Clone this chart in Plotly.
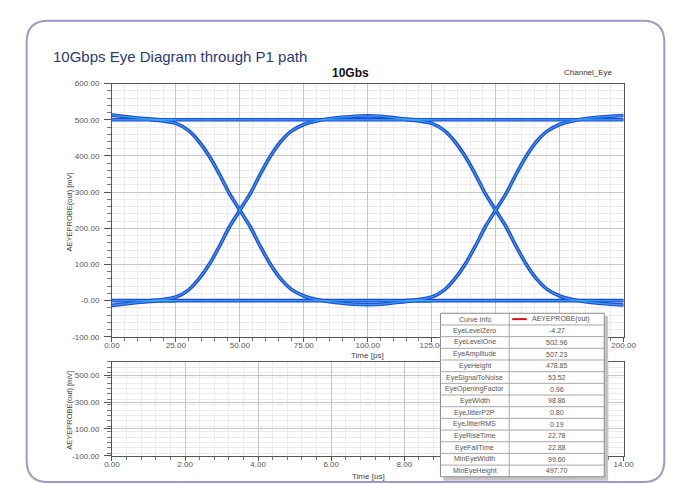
import plotly.graph_objects as go

# ---------------- data ----------------
# Eye-diagram waveform segments (time in ps, voltage in mV)
T_STEADY = [0, 200]
V_STEADY_HI = [500, 500]
V_STEADY_LO = [0, 0]

T_TAIL0 = [0, 5, 10, 15, 20, 25]
V_TAIL0_HI = [513, 509, 505, 502, 500, 500]
V_TAIL0_LO = [-13, -9, -5, -2, 0, 0]

T_EDGE1 = [15, 20, 25, 30, 34, 38, 42, 46, 50, 54, 58, 62, 66, 70, 75, 80, 85, 90, 95, 100, 105, 110, 115, 120, 125]
V_RISE1 = [0, 3, 10, 30, 60, 100, 150, 205, 250, 295, 350, 400, 440, 468, 487, 497, 503, 507, 510, 511, 510, 506, 502, 500, 500]
V_FALL1 = [500, 497, 490, 470, 440, 400, 350, 295, 250, 205, 150, 100, 60, 32, 13, 3, -3, -7, -10, -11, -10, -6, -2, 0, 0]

T_EDGE2 = [115, 120, 125, 130, 134, 138, 142, 146, 150, 154, 158, 162, 166, 170, 175, 180, 185, 190, 195, 200]
V_RISE2 = [0, 3, 10, 30, 60, 100, 150, 205, 250, 295, 350, 400, 440, 468, 487, 497, 503, 507, 510, 512]
V_FALL2 = [500, 497, 490, 470, 440, 400, 350, 295, 250, 205, 150, 100, 60, 32, 13, 3, -3, -7, -10, -12]

X_TICKS_PS = [0, 25, 50, 75, 100, 125, 150, 175, 200]
# labels at 150 and 175 are hidden behind the curve-info table in the reference
X_LABELS_PS = ["0.00", "25.00", "50.00", "75.00", "100.00", "125.00", "", "", "200.00"]
Y_TICKS_MV = [-100, 0, 100, 200, 300, 400, 500, 600]
Y_LABELS_MV = ["-100.00", "-0.00", "100.00", "200.00", "300.00", "400.00", "500.00", "600.00"]

X_TICKS_US = [0, 2, 4, 6, 8, 10, 12, 14]
# labels at 10 and 12 are hidden behind the table in the reference
X_LABELS_US = ["0.00", "2.00", "4.00", "6.00", "8.00", "", "", "14.00"]
Y_TICKS_BOT = [-100, 100, 300, 500]
Y_LABELS_BOT = ["-100.00", "100.00", "300.00", "500.00"]

EYE_PARAMS = ["EyeLevelZero", "EyeLevelOne", "EyeAmplitude", "EyeHeight", "EyeSignalToNoise",
              "EyeOpeningFactor", "EyeWidth", "EyeJitterP2P", "EyeJitterRMS", "EyeRiseTime",
              "EyeFallTime", "MinEyeWidth", "MinEyeHeight"]
EYE_VALUES = ["-4.27", "502.96", "507.23", "478.85", "53.52", "0.96", "98.86", "0.80", "0.19",
              "22.78", "22.88", "99.60", "497.70"]

# ---------------- helpers ----------------
W, H = 679, 483


def px(x):
    return x / W


def py(y):
    return 1 - y / H


FONT = "Liberation Sans"
fig = go.Figure()

paths = [
    (T_STEADY, V_STEADY_HI), (T_STEADY, V_STEADY_LO),
    (T_TAIL0, V_TAIL0_HI), (T_TAIL0, V_TAIL0_LO),
    (T_EDGE1, V_RISE1), (T_EDGE1, V_FALL1),
    (T_EDGE2, V_RISE2), (T_EDGE2, V_FALL2),
]
LAYERS = [("#1e44d6", 3.6, 1.0), ("#2764e2", 2.0, 1.0), ("#3fc4f0", 0.8, 0.85)]
for color, width, op in LAYERS:
    for t, v in paths:
        fig.add_trace(go.Scatter(x=t, y=v, mode="lines", opacity=op,
                                 line=dict(color=color, width=width, shape="spline", smoothing=0.6),
                                 hoverinfo="skip", showlegend=False, xaxis="x", yaxis="y"))

fig.add_trace(go.Scatter(x=[], y=[], mode="lines", xaxis="x2", yaxis="y2", showlegend=False))

tickfont = dict(family=FONT, size=8, color="#555555")
common = dict(showline=True, linecolor="#555555", linewidth=1, mirror=True, ticks="outside",
              tickcolor="#555555", gridcolor="#c6c6c6", gridwidth=1, zeroline=False, tickfont=tickfont,
              fixedrange=True)

fig.update_layout(
    width=W, height=H, margin=dict(l=0, r=0, t=0, b=0),
    paper_bgcolor="white", plot_bgcolor="white", showlegend=False, hovermode=False,
    xaxis=dict(domain=[px(99), px(627)], range=[0, 200], anchor="y", tickvals=X_TICKS_PS, ticktext=X_LABELS_PS,
               ticklen=4, ticklabelstandoff=-3,
               minor=dict(dtick=5, showgrid=True, gridcolor="#ebebeb", ticks="outside", ticklen=3, tickcolor="#777777"),
               **common),
    yaxis=dict(domain=[py(331), py(73)], range=[-100, 600], anchor="x", tickvals=Y_TICKS_MV, ticktext=Y_LABELS_MV,
               ticklen=7, ticklabelstandoff=3,
               minor=dict(dtick=20, showgrid=True, gridcolor="#ebebeb", ticks="outside", ticklen=4, tickcolor="#777777"),
               **common),
    xaxis2=dict(domain=[px(99), px(627)], range=[0, 14], anchor="y2", tickvals=X_TICKS_US, ticktext=X_LABELS_US,
                ticklen=4, ticklabelstandoff=-3,
                minor=dict(dtick=0.4, showgrid=True, gridcolor="#ebebeb", ticks="outside", ticklen=3, tickcolor="#777777"),
                **common),
    yaxis2=dict(domain=[py(452.3), py(356.3)], range=[-100, 600], anchor="x2", tickvals=Y_TICKS_BOT,
                ticktext=Y_LABELS_BOT, ticklen=7, ticklabelstandoff=3,
                minor=dict(dtick=40, showgrid=True, gridcolor="#ebebeb", ticks="outside", ticklen=4, tickcolor="#777777"),
                **common),
)

shapes = []
ann = []

# outer rounded frame
L, R, T, B, r = 11, 669, 9, 479, 22
pth = (f"M {px(L + r)} {py(T)} L {px(R - r)} {py(T)} Q {px(R)} {py(T)} {px(R)} {py(T + r)} "
       f"L {px(R)} {py(B - r)} Q {px(R)} {py(B)} {px(R - r)} {py(B)} "
       f"L {px(L + r)} {py(B)} Q {px(L)} {py(B)} {px(L)} {py(B - r)} "
       f"L {px(L)} {py(T + r)} Q {px(L)} {py(T)} {px(L + r)} {py(T)} Z")
shapes.append(dict(type="path", path=pth, xref="paper", yref="paper", line=dict(color="#9d9bc2", width=2),
                   layer="below"))

# texts
ann.append(dict(text="10Gbps Eye Diagram through P1 path", x=px(36), y=py(45), xref="paper", yref="paper",
                xanchor="left", yanchor="middle", showarrow=False,
                font=dict(family=FONT, size=15, color="#2d3875")))
ann.append(dict(text="<b>10Gbs</b>", x=px(345), y=py(62), xref="paper", yref="paper", showarrow=False,
                xanchor="center", yanchor="middle", font=dict(family=FONT, size=12, color="#111111")))
ann.append(dict(text="Channel_Eye", x=px(591), y=py(62), xref="paper", yref="paper", showarrow=False,
                xanchor="center", yanchor="middle", font=dict(family=FONT, size=8, color="#333333")))
axfont = dict(family=FONT, size=8, color="#444444")
ann.append(dict(text="Time [ps]", x=px(363), y=py(350.5), xref="paper", yref="paper", showarrow=False,
                xanchor="center", yanchor="middle", font=axfont))
ann.append(dict(text="Time [us]", x=px(364), y=py(473), xref="paper", yref="paper", showarrow=False,
                xanchor="center", yanchor="middle", font=axfont))
ann.append(dict(text="AEYEPROBE(out) [mV]", x=px(55), y=py(204), xref="paper", yref="paper", showarrow=False,
                textangle=-90, xanchor="center", yanchor="middle", font=dict(family=FONT, size=7.5, color="#444444")))
ann.append(dict(text="AEYEPROBE(out) [mV]", x=px(55), y=py(406), xref="paper", yref="paper", showarrow=False,
                textangle=-90, xanchor="center", yanchor="middle", font=dict(family=FONT, size=7.5, color="#444444")))

# curve info table
TL, TR, TT, RH, TC = 438, 607, 307, 11.9, 509
nrows = len(EYE_PARAMS) + 1
TB = TT + nrows * RH
shapes.append(dict(type="rect", xref="paper", yref="paper", x0=px(TL + 3), x1=px(TR + 4), y0=py(TT + 3), y1=py(TB + 4),
                   fillcolor="#c4c4c4", line=dict(width=0), layer="above"))
shapes.append(dict(type="rect", xref="paper", yref="paper", x0=px(TL), x1=px(TR), y0=py(TT), y1=py(TB),
                   fillcolor="white", line=dict(color="#8c8c8c", width=1), layer="above"))
for i in range(1, nrows):
    shapes.append(dict(type="line", xref="paper", yref="paper", x0=px(TL), x1=px(TR), y0=py(TT + i * RH),
                       y1=py(TT + i * RH), line=dict(color="#a8a8a8", width=1), layer="above"))
shapes.append(dict(type="line", xref="paper", yref="paper", x0=px(TC), x1=px(TC), y0=py(TT), y1=py(TB),
                   line=dict(color="#a8a8a8", width=1), layer="above"))
shapes.append(dict(type="line", xref="paper", yref="paper", x0=px(512), x1=px(527), y0=py(TT + RH / 2),
                   y1=py(TT + RH / 2), line=dict(color="#e01010", width=2), layer="above"))
tfont = dict(family=FONT, size=7, color="#555555")
ann.append(dict(text="Curve Info", x=px((TL + TC) / 2), y=py(TT + RH / 2), xref="paper", yref="paper",
                showarrow=False, xanchor="center", yanchor="middle", font=tfont))
ann.append(dict(text="AEYEPROBE(out)", x=px(562), y=py(TT + RH / 2), xref="paper", yref="paper",
                showarrow=False, xanchor="center", yanchor="middle", font=tfont))
for i, (name, val) in enumerate(zip(EYE_PARAMS, EYE_VALUES)):
    yc = TT + (i + 1.5) * RH
    ann.append(dict(text=name, x=px((TL + TC) / 2), y=py(yc), xref="paper", yref="paper", showarrow=False,
                    xanchor="center", yanchor="middle", font=tfont))
    ann.append(dict(text=val, x=px((TC + TR) / 2), y=py(yc), xref="paper", yref="paper", showarrow=False,
                    xanchor="center", yanchor="middle", font=tfont))

fig.update_layout(shapes=shapes, annotations=ann)
fig.write_html("out.html")
